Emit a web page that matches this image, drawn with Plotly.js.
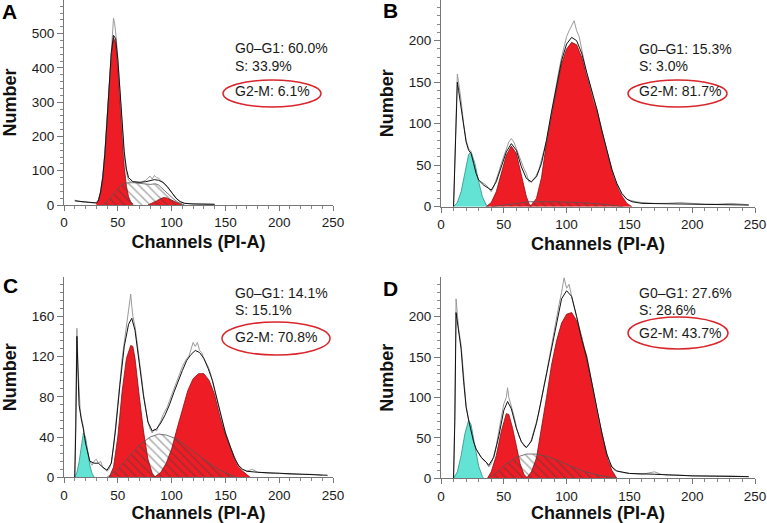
<!DOCTYPE html>
<html><head><meta charset="utf-8">
<script src="https://cdn.plot.ly/plotly-3.0.1.min.js"></script>
<style>html,body{margin:0;padding:0;background:#fff}#chart{width:767px;height:523px}</style>
</head><body><div id="chart"></div>
<script>
// ---------- Panel A ----------
const rawChA = [10,12,14,16,18,20,22,24,26,28,30,32,34,36,38,40,42,44,45,46,47,48,50,52,54,56,58,60,62,64,66,68,70,72,74,76,78,80,82,84,86,88,90,92,94,96,98,100,102,104,106,108,110,112,115,120,125,130,135,140];
const rawA   = [14,12,10,9,8,8,7,7,6,6,7,14,40,85,155,250,360,470,520,545,530,505,430,330,230,140,95,72,68,66,68,67,68,66,70,72,78,84,76,86,80,78,72,66,60,52,44,36,28,20,14,9,6,5,4,4,3,3,2,2];
const fitChA = [10,20,30,32,34,36,38,40,42,44,46,48,50,52,54,56,58,60,64,70,76,80,84,88,92,96,100,104,108,112,120,140];
const fitA   = [12,8,6,12,38,80,150,245,350,445,495,485,425,330,235,155,105,80,68,66,68,72,74,72,66,54,36,20,10,5,3,2];
const g1ChA  = [30,32,34,36,38,40,42,44,46,48,50,52,54,56,58,60,62,64];
const g1A    = [5,15,37,79,149,243,350,442,488,472,400,297,193,110,55,24,9,3];
const sChA   = [36,40,44,48,52,56,60,65,70,75,80,85,88,90,94,98,102,106,110,112];
const sA     = [0,10,25,40,55,63,65,65,64,63,60,62,58,52,40,28,17,8,2,0];
const g2ChA  = [78,82,86,90,93,96,100,104,108,110];
const g2A    = [0,5,12,19,22,20,14,7,2,0];

// ---------- Panel B ----------
const rawChB = [10,11,12,13,14,15,16,18,20,22,24,26,28,30,32,34,36,38,40,42,44,46,48,50,52,54,56,58,60,62,64,66,68,70,72,74,76,78,80,82,84,86,88,90,92,94,96,98,100,102,104,106,108,110,112,114,116,118,120,122,124,126,128,130,132,134,136,138,140,142,144,146,148,150,155,160,170,180,190,200,210,220,230,240,245];
const rawB   = [0,50,120,160,150,135,128,100,80,70,66,52,40,32,30,28,26,22,18,24,32,42,52,60,70,78,82,78,70,62,52,46,40,30,30,34,38,45,55,68,80,98,115,130,148,165,180,192,205,212,218,224,212,205,190,175,160,150,138,126,118,104,92,80,68,56,45,35,28,20,15,12,9,8,6,5,4,4,5,4,3,3,4,3,2];
const fitChB = [10,12,13,14,16,18,20,22,24,26,28,30,34,38,40,44,48,52,56,60,64,68,72,76,80,84,88,92,96,100,104,108,112,116,120,124,128,132,136,140,144,148,152,160,200,245];
const fitB   = [0,100,150,140,120,95,78,68,64,52,40,32,26,22,20,30,48,66,76,68,48,34,30,36,52,80,114,146,176,196,204,200,185,162,140,118,92,68,45,28,16,9,6,4,3,2];
const cyChB  = [10,13,16,19,22,24,27,30,33,36,38];
const cyB    = [0,5,18,42,63,66,52,30,12,2,0];
const g1ChB  = [36,40,44,48,52,56,60,64,68,70,72];
const g1B    = [0,5,18,40,62,73,64,38,12,4,0];
const sChB   = [40,55,70,90,110,130,145];
const sB     = [0,3,6,6,5,3,0];
const g2ChB  = [71,76,80,84,88,92,96,100,104,108,112,116,120,124,128,132,136,140,144,148,152];
const g2B    = [0,10,35,77,110,141,172,190,198,195,180,158,137,117,92,68,44,26,13,4,0];

// ---------- Panel C ----------
const rawChC = [10,11,12,13,14,15,16,18,20,22,24,26,28,30,32,34,36,38,40,42,44,46,48,50,52,54,56,58,60,62,63,64,66,68,70,72,74,76,78,80,82,84,86,88,90,92,94,96,98,100,102,104,106,108,110,112,114,116,118,120,122,124,126,128,130,132,134,136,138,140,142,144,146,148,150,152,154,156,158,160,162,165,170,175,180,190,200,210,220,230,240];
const rawC   = [0,60,148,110,80,68,60,50,35,25,16,12,16,18,14,16,10,8,6,8,15,30,50,72,95,118,135,150,165,182,170,160,150,135,118,100,82,66,55,48,44,48,46,52,56,62,66,70,76,82,86,92,98,104,110,114,118,120,126,134,130,134,126,124,118,114,110,104,96,86,77,68,60,52,45,38,32,26,20,15,11,8,6,8,5,4,4,3,3,3,2];
const fitChC = [10,11,12,13,14,16,18,20,24,28,32,36,40,44,48,52,56,60,63,66,70,74,78,82,86,90,94,98,102,106,110,114,118,122,126,130,134,138,142,146,150,154,158,162,166,170,180,200,245];
const fitC   = [0,50,140,100,72,58,48,34,16,14,14,10,7,14,48,92,130,152,158,146,115,80,55,46,48,54,62,72,84,96,106,116,122,126,124,118,108,96,78,60,44,32,20,12,8,6,5,4,2];
const cyChC  = [10,12,14,16,18,20,22,24,26,28];
const cyC    = [0,5,15,32,44,40,26,12,4,0];
const g1ChC  = [42,46,50,54,58,62,64,66,70,74,78,82,85];
const g1C    = [0,10,40,85,118,131,130,118,80,45,18,4,0];
const sChC   = [40,50,60,70,80,88,95,105,115,125,135,145,155,160];
const sC     = [0,8,20,32,40,43,42,38,30,22,14,7,2,0];
const g2ChC  = [84,90,95,100,105,110,115,120,125,130,135,140,145,150,155,160,165,170,173];
const g2C    = [0,5,14,28,48,68,86,98,103,103,96,82,60,42,28,16,7,2,0];

// ---------- Panel D ----------
const rawChD = [10,11,12,13,14,16,18,20,22,24,26,28,30,32,34,36,38,40,42,44,46,48,50,52,53,54,56,58,60,62,64,66,68,70,72,74,76,78,80,82,84,86,88,90,92,94,96,98,100,102,104,106,108,110,112,114,116,118,120,122,124,126,128,130,132,134,136,138,140,142,145,150,160,170,175,180,190,200,210,220,230,245];
const rawD   = [0,80,222,200,185,165,125,90,72,58,45,36,30,26,22,20,14,18,28,40,58,75,92,100,112,100,90,78,64,52,46,40,38,42,48,58,70,82,100,115,130,148,165,182,198,215,230,248,235,240,225,212,198,186,172,162,152,135,118,100,85,70,56,42,31,20,14,10,9,8,7,6,5,8,5,4,4,3,3,3,3,2];
const fitChD = [10,11,12,13,14,16,18,20,22,24,26,28,32,36,38,42,46,50,53,56,60,64,68,72,76,80,84,88,92,96,100,104,108,112,116,120,124,128,132,136,140,150,170,200,245];
const fitD   = [0,70,205,195,180,160,120,88,72,58,45,36,26,20,16,26,52,84,95,86,62,45,38,46,68,98,128,160,192,222,232,225,200,172,150,118,85,56,30,14,9,6,5,3,2];
const cyChD  = [10,13,16,19,22,24,27,30,33,34];
const cyD    = [0,8,28,55,72,66,40,15,2,0];
const g1ChD  = [37,40,44,48,52,54,57,60,63,66,69];
const g1D    = [0,8,28,58,80,79,62,38,18,5,0];
const sChD   = [38,45,52,60,68,75,85,95,105,115,125,135,140];
const sD     = [0,8,18,26,30,30,27,21,14,8,4,1,0];
const g2ChD  = [68,72,76,80,84,88,92,96,100,104,108,112,116,120,124,128,132,136,139,140];
const g2D    = [0,8,25,60,100,140,170,192,203,205,195,175,147,118,86,55,28,10,2,0];

// ---------- Texts ----------
const panelLetters = ['A','B','C','D'];
const g0g1Text = ['G0–G1: 60.0%','G0–G1: 15.3%','G0–G1: 14.1%','G0–G1: 27.6%'];
const sText    = ['S: 33.9%','S: 3.0%','S: 15.1%','S: 28.6%'];
const g2mText  = ['G2-M: 6.1%','G2-M: 81.7%','G2-M: 70.8%','G2-M: 43.7%'];
const yRanges  = [[0,598],[0,249],[0,199],[0,249]];
const yDticks  = [100,50,40,50];
const yMinor   = [20,10,8,10];

const RED = '#ee1d25', RED_LINE = '#8a0c10', CYAN = '#62e3d3', CYAN_LINE = '#2f8f86';
const W = 767, H = 523;

function area(x, y, ax, fill, lc) {
  return {x, y, xaxis: 'x'+ax, yaxis: 'y'+ax, type: 'scatter', mode: 'lines',
    fill: 'tozeroy', fillcolor: fill, line: {color: lc, width: 0.8}, hoverinfo: 'skip', showlegend: false};
}
function hatch(x, y, ax) {
  return {x, y, xaxis: 'x'+ax, yaxis: 'y'+ax, type: 'scatter', mode: 'lines',
    fill: 'tozeroy', fillcolor: 'rgba(0,0,0,0)',
    fillpattern: {shape: '\\', fgcolor: 'rgba(60,60,60,0.85)', bgcolor: 'rgba(0,0,0,0)', size: 6, solidity: 0.25, fillmode: 'overlay'},
    line: {color: '#555', width: 0.8}, hoverinfo: 'skip', showlegend: false};
}
function line(x, y, ax, c, w) {
  return {x, y, xaxis: 'x'+ax, yaxis: 'y'+ax, type: 'scatter', mode: 'lines',
    line: {color: c, width: w}, hoverinfo: 'skip', showlegend: false};
}

const axSuffix = ['', '2', '3', '4'];
const traces = [
  area(g1ChA, g1A, '', RED, RED_LINE), area(g2ChA, g2A, '', RED, RED_LINE), hatch(sChA, sA, ''),
  line(rawChA, rawA, '', '#9a9a9a', 1), line(fitChA, fitA, '', '#111', 1),

  area(cyChB, cyB, '2', CYAN, CYAN_LINE), area(g1ChB, g1B, '2', RED, RED_LINE), area(g2ChB, g2B, '2', RED, RED_LINE), hatch(sChB, sB, '2'),
  line(rawChB, rawB, '2', '#9a9a9a', 1), line(fitChB, fitB, '2', '#111', 1),

  area(cyChC, cyC, '3', CYAN, CYAN_LINE), area(g1ChC, g1C, '3', RED, RED_LINE), area(g2ChC, g2C, '3', RED, RED_LINE), hatch(sChC, sC, '3'),
  line(rawChC, rawC, '3', '#9a9a9a', 1), line(fitChC, fitC, '3', '#111', 1),

  area(cyChD, cyD, '4', CYAN, CYAN_LINE), area(g1ChD, g1D, '4', RED, RED_LINE), area(g2ChD, g2D, '4', RED, RED_LINE), hatch(sChD, sD, '4'),
  line(rawChD, rawD, '4', '#9a9a9a', 1), line(fitChD, fitD, '4', '#111', 1)
];

// plot-area pixel boxes [left, right, bottom, top]
const boxes = [[64,333,205,0],[441,755,206.7,0],[64,333,477.3,277],[441,755,478.3,277]];
const FONT = 'Liberation Sans, Arial, sans-serif';
const layout = {
  width: W, height: H, margin: {l:0, r:0, t:0, b:0},
  paper_bgcolor: '#fff', plot_bgcolor: '#fff', showlegend: false,
  font: {family: FONT, color: '#1a1a1a', size: 13.5},
  annotations: [], shapes: []
};
boxes.forEach((b, i) => {
  const s = axSuffix[i];
  layout['xaxis'+s] = {
    domain: [b[0]/W, b[1]/W], anchor: 'y'+s, range: [0, 250], tick0: 0, dtick: 50,
    ticks: 'outside', ticklen: 5, tickcolor: '#777', showline: true, linecolor: '#777', linewidth: 1,
    showgrid: false, zeroline: false, tickfont: {size: 13.5, color: '#1a1a1a'},
    minor: {dtick: 10, ticks: 'outside', ticklen: 3, tickcolor: '#888', showgrid: false},
    title: {text: '<b>Channels (PI-A)</b>', font: {size: 18, color: '#111'}, standoff: 6}
  };
  layout['yaxis'+s] = {
    domain: [1 - b[2]/H, 1 - b[3]/H], anchor: 'x'+s, range: yRanges[i], tick0: 0, dtick: yDticks[i],
    ticks: 'outside', ticklen: 6, tickcolor: '#777', showline: true, linecolor: '#777', linewidth: 1,
    showgrid: false, zeroline: false, tickfont: {size: 13.5, color: '#1a1a1a'},
    minor: {dtick: yMinor[i], ticks: 'outside', ticklen: 3, tickcolor: '#888', showgrid: false},
    title: {text: '<b>Number</b>', font: {size: 18, color: '#111'}, standoff: 10}
  };
});

// panel letters and percentage texts (pixel positions converted to paper)
const letterPos = [[0,11],[381,10],[1,285],[381,288]];
const textX = [233, 637, 233, 637];
const textY = [[48,66,91],[49,66,91],[293,310,337],[293,310,333]];
const ellipses = [[223,321,80,107],[628,727,80,107],[222,330,322,355],[628,728,317,349]];
panelLetters.forEach((L, i) => {
  layout.annotations.push({xref:'paper', yref:'paper', x: letterPos[i][0]/W, y: 1 - letterPos[i][1]/H,
    xanchor:'left', yanchor:'middle', text: '<b>'+L+'</b>', showarrow:false, font:{size: 21, color:'#000'}});
  [g0g1Text[i], sText[i], g2mText[i]].forEach((t, k) => {
    layout.annotations.push({xref:'paper', yref:'paper', x: textX[i]/W, y: 1 - textY[i][k]/H,
      xanchor:'left', yanchor:'middle', text: t, showarrow:false, font:{size: 14, color:'#1a1a1a'}});
  });
  const e = ellipses[i];
  layout.shapes.push({type:'circle', xref:'paper', yref:'paper', x0: e[0]/W, x1: e[1]/W, y0: 1 - e[3]/H, y1: 1 - e[2]/H,
    line:{color:'#d8262c', width:1.5}});
});

Plotly.newPlot('chart', traces, layout, {staticPlot: true, displayModeBar: false});
</script>
</body></html>
